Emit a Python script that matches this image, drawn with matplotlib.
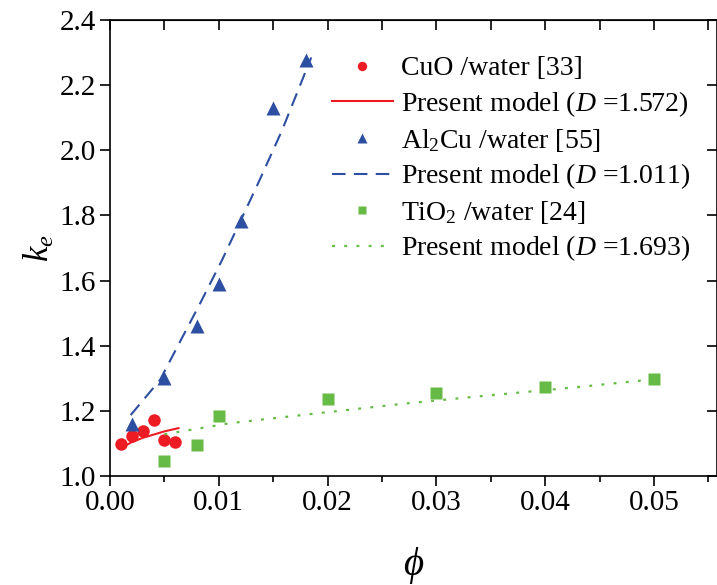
import matplotlib
matplotlib.use("Agg")
import matplotlib.pyplot as plt

plt.rcParams['font.family'] = ['Liberation Serif', 'DejaVu Serif']
plt.rcParams['mathtext.fontset'] = 'custom'
plt.rcParams['mathtext.rm'] = 'Liberation Serif'
plt.rcParams['mathtext.it'] = 'Liberation Serif:italic'

# CuO /water [33]
cuo_phi = [0.001, 0.002, 0.003, 0.004, 0.005, 0.006]
cuo_k = [1.098, 1.123, 1.139, 1.171, 1.111, 1.105]
cuo_model_phi = [0.0014, 0.002, 0.003, 0.0037, 0.005, 0.0063]
cuo_model_k = [1.093, 1.104, 1.117, 1.124, 1.137, 1.147]

# Al2Cu /water [55]
al_phi = [0.002, 0.005, 0.008, 0.010, 0.012, 0.015, 0.018]
al_k = [1.16, 1.30, 1.46, 1.59, 1.783, 2.13, 2.278]
al_model_phi = [0.0019, 0.0046, 0.0064, 0.0083, 0.0103, 0.0135, 0.0158, 0.0185]
al_model_k = [1.187, 1.295, 1.41, 1.531, 1.663, 1.89, 2.06, 2.285]

# TiO2 /water [24]
ti_phi = [0.005, 0.008, 0.010, 0.020, 0.030, 0.040, 0.050]
ti_k = [1.046, 1.095, 1.183, 1.235, 1.254, 1.272, 1.297]
ti_model_phi = [0.005, 0.011, 0.020, 0.027, 0.035, 0.043, 0.050]
ti_model_k = [1.128, 1.162, 1.196, 1.222, 1.248, 1.273, 1.297]

x_ticks = [0.00, 0.01, 0.02, 0.03, 0.04, 0.05]
y_ticks = [1.0, 1.2, 1.4, 1.6, 1.8, 2.0, 2.2, 2.4]

red = '#ED1C24'
blue = '#2D4FA2'
green = '#66BB46'

fig = plt.figure(figsize=(7.17, 5.85), dpi=100)
ax = fig.add_axes([110/717, 109/585, 607/717, 456/585])

ax.plot(cuo_phi, cuo_k, 'o', color=red, ms=9, mec='none', label='CuO /water [33]')
ax.plot(cuo_model_phi, cuo_model_k, '-', color=red, lw=1.5,
        label='Present model ($D$ =1.572)')
ax.plot(al_phi, al_k, '^', color=blue, ms=10.5, mec='none', label=r'Al$_{\mathregular{2}}$Cu /water [55]')
ax.plot(al_model_phi, al_model_k, color=blue, lw=1.5, dashes=(6.5, 4),
        label='Present model ($D$ =1.011)')
ax.plot(ti_phi, ti_k, 's', color=green, ms=8, mec='none', label=r'TiO$_{\mathregular{2}}$ /water [24]')
ax.plot(ti_model_phi, ti_model_k, color=green, lw=1.6, dashes=(1.3, 4.2),
        label='Present model ($D$ =1.693)')

ax.set_xlim(0, 0.0558)
ax.set_ylim(1.0, 2.4)
ax.set_xticks(x_ticks)
ax.set_xticklabels([f'{v:.2f}' for v in x_ticks])
ax.set_yticks(y_ticks)
ax.set_yticklabels([f'{v:.1f}' for v in y_ticks])
ax.set_xticks([0.005, 0.015, 0.025, 0.035, 0.045, 0.055], minor=True)

for s in ax.spines.values():
    s.set_linewidth(1.2)
ax.tick_params(axis='both', which='major', labelsize=21, width=1.2, length=7, pad=3)
ax.tick_params(axis='x', which='minor', width=1.2, length=4)
ax.tick_params(axis='y', which='both', left=True, right=False, direction='out')
ax.tick_params(axis='x', which='both', bottom=True, direction='out')

# mirrored inward ticks on top and right
top = ax.secondary_xaxis('top')
top.set_xticks(x_ticks + [0.005, 0.015, 0.025, 0.035, 0.045, 0.055])
top.tick_params(direction='in', length=7, width=1.2, labeltop=False)
right = ax.secondary_yaxis('right')
right.set_yticks(y_ticks)
right.tick_params(direction='in', length=7, width=1.2, labelright=False)

ax.set_xlabel(r'$\phi$', fontsize=28, labelpad=21)
ax.set_ylabel('$k_e$', fontsize=25, labelpad=2)

leg = ax.legend(loc='upper left', bbox_to_anchor=(318/717, 1 - 42/585),
                bbox_transform=fig.transFigure, frameon=False, fontsize=20,
                handlelength=2.2, handletextpad=0.3, labelspacing=0.28,
                borderpad=0, markerscale=0.75)

fig.savefig('out.png', dpi=100)
